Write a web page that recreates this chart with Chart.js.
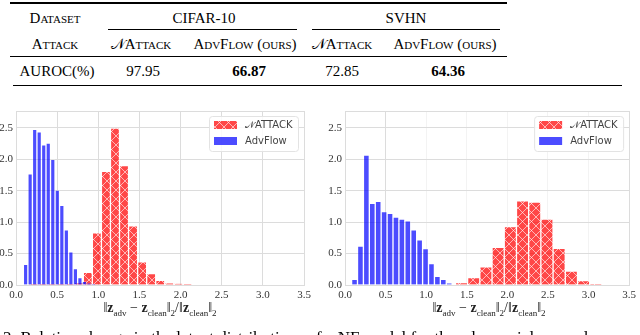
<!DOCTYPE html>
<html>
<head>
<meta charset="utf-8">
<script src="https://cdn.jsdelivr.net/npm/chart.js@4.4.0/dist/chart.umd.min.js"></script>
<style>
  body { margin: 0; width: 640px; height: 335px; overflow: hidden; background: #fff; position: relative; font-family: 'Liberation Serif', serif; }
  .cell { position: absolute; font-size: 15px; line-height: 18px; white-space: nowrap; transform: translateX(-50%); color: #000; }
  .sc { font-variant: small-caps; }
  .rule { position: absolute; background: #000; }
  canvas { position: absolute; }
  .xtitle { position: absolute; top: 301px; font-size: 14px; line-height: 14px; white-space: nowrap; transform: translateX(-50%); color: #222; }
  .xtitle sub { font-size: 9px; }
  .caption { position: absolute; left: 3px; top: 330px; font-size: 17px; line-height: 16px; white-space: nowrap; color: #000; }
</style>
</head>
<body>
<div id="table"></div>
<canvas id="cifar" width="330" height="220" style="left:-10px; top:100px"></canvas>
<canvas id="svhn" width="320" height="220" style="left:320px; top:100px"></canvas>
<div class="xtitle" style="left:160px">‖<b>z</b><sub>adv</sub> − <b>z</b><sub>clean</sub>‖<sub>2</sub>/‖<b>z</b><sub>clean</sub>‖<sub>2</sub></div>
<div class="xtitle" style="left:489px">‖<b>z</b><sub>adv</sub> − <b>z</b><sub>clean</sub>‖<sub>2</sub>/‖<b>z</b><sub>clean</sub>‖<sub>2</sub></div>
<div class="caption">2: Relative change in the latent distributions of a NF model for the adversarial examples</div>
<script>
// table contents
const tableDatasets = ['CIFAR-10', 'SVHN'];
const tableAttacks = ['𝒩Attack', 'AdvFlow (ours)'];
const aurocValues = [97.95, 66.87, 72.85, 64.36];
const aurocBold = [false, true, false, true];

// legend names
const seriesNames = ['𝒩ATTACK', 'AdvFlow'];

// axis ranges / tick step
const xMax = 3.5;
const yMax = 2.77;
const tickStep = 0.5;

// CIFAR-10 histograms (bin centres, density)
const cifarAttackBins = [0.213, 0.323, 0.433, 0.543, 0.653, 0.763, 0.873, 0.983, 1.093, 1.203, 1.313, 1.423, 1.533, 1.643, 1.753, 1.863, 1.973, 2.083];
const cifarAttackDensity = [0.01, 0.01, 0.005, 0.004, 0.01, 0.04, 0.20, 0.83, 1.81, 2.50, 1.90, 0.94, 0.37, 0.18, 0.075, 0.03, 0.02, 0.01];
const cifarFlowBins = [0.117, 0.172, 0.227, 0.282, 0.337, 0.392, 0.447, 0.502, 0.557, 0.612, 0.667, 0.722, 0.777, 0.832, 0.887, 0.942];
const cifarFlowDensity = [0.33, 1.77, 2.48, 2.44, 2.23, 2.26, 2.00, 1.51, 1.27, 0.88, 0.53, 0.26, 0.12, 0.06, 0.03, 0.015];

// SVHN histograms (bin centres, density)
const svhnAttackBins = [1.4352, 1.5856, 1.736, 1.8864, 2.0368, 2.1872, 2.3376, 2.488, 2.6384, 2.7888, 2.9392, 3.0896];
const svhnAttackDensity = [0.04, 0.12, 0.29, 0.60, 0.93, 1.34, 1.32, 1.05, 0.585, 0.22, 0.07, 0.016];
const svhnFlowBins = [0.1175, 0.1904, 0.2633, 0.3362, 0.4091, 0.4820, 0.5549, 0.6278, 0.7007, 0.7736, 0.8465, 0.9194, 0.9923, 1.0652, 1.1381, 1.2110, 1.2839];
const svhnFlowDensity = [0.09, 0.62, 2.07, 1.30, 1.33, 1.17, 1.14, 1.08, 1.05, 1.02, 0.88, 0.72, 0.58, 0.34, 0.14, 0.09, 0.03];

// build the table
const table = document.getElementById('table');
function cell(text, x, y, cls, bold) {
    const d = document.createElement('div');
    d.className = 'cell' + (cls ? ' ' + cls : '');
    d.style.left = x + 'px';
    d.style.top = (y - 9) + 'px';
    if (bold) d.style.fontWeight = 'bold';
    d.textContent = text;
    table.appendChild(d);
}
function rule(x1, x2, y, h) {
    const d = document.createElement('div');
    d.className = 'rule';
    d.style.left = x1 + 'px';
    d.style.width = (x2 - x1) + 'px';
    d.style.top = y + 'px';
    d.style.height = h + 'px';
    table.appendChild(d);
}
const colX = [55, 141, 245, 342, 445];
cell('Dataset', colX[0], 18, 'sc');
cell(tableDatasets[0], 204, 18);
cell(tableDatasets[1], 406, 18);
cell('Attack', colX[0], 44, 'sc');
cell(tableAttacks[0], colX[1], 44, 'sc');
cell(tableAttacks[1], colX[2], 44, 'sc');
cell(tableAttacks[0], colX[3], 44, 'sc');
cell(tableAttacks[1], colX[4], 44, 'sc');
cell('AUROC(%)', 57, 71);
aurocValues.forEach((v, i) => cell(v.toFixed(2), [143, 249, 342, 448][i], 71, '', aurocBold[i]));
rule(10, 507, 2, 1.5);
rule(108, 297, 29, 1);
rule(312, 500, 29, 1);
rule(10, 507, 56, 1);
rule(13, 622, 84.5, 1.5);

// hatch pattern for the attack bars
function makeHatch() {
    const s = 9;
    const tile = document.createElement('canvas');
    tile.width = s; tile.height = s;
    const c = tile.getContext('2d');
    c.fillStyle = 'rgba(255,0,0,0.72)';
    c.fillRect(0, 0, s, s);
    c.strokeStyle = 'rgba(255,255,255,0.6)';
    c.lineWidth = 1;
    c.beginPath();
    c.moveTo(0, 0); c.lineTo(s, s);
    c.moveTo(0, s); c.lineTo(s, 0);
    c.stroke();
    return c.createPattern(tile, 'repeat');
}
const hatch = makeHatch();

// grey frame round the plot area
const framePlugin = {
    id: 'frame',
    beforeDatasetsDraw(chart) {
        const { ctx, chartArea: a } = chart;
        ctx.save();
        ctx.strokeStyle = '#dcdcdc';
        ctx.lineWidth = 1;
        ctx.strokeRect(Math.round(a.left) + 0.5, Math.round(a.top) + 0.5, Math.round(a.width), Math.round(a.height));
        ctx.restore();
    }
};

// legend box in the upper right corner
const boxLegend = {
    id: 'boxLegend',
    afterDatasetsDraw(chart) {
        const { ctx, chartArea: a } = chart;
        const w = 89, h = 35;
        const x0 = a.right - 6 - w, y0 = a.top + 5;
        ctx.save();
        ctx.fillStyle = 'rgba(255,255,255,0.85)';
        ctx.strokeStyle = '#e3e3e3';
        ctx.lineWidth = 1;
        ctx.beginPath();
        ctx.roundRect(x0 + 0.5, y0 + 0.5, w, h, 3);
        ctx.fill();
        ctx.stroke();
        chart.data.datasets.forEach((ds, i) => {
            const cy = y0 + 9 + i * 16;
            ctx.fillStyle = ds.backgroundColor;
            ctx.fillRect(x0 + 5, cy - 4, 23, 8);
            ctx.fillStyle = '#444';
            ctx.font = '10px "DejaVu Sans"';
            ctx.textBaseline = 'middle';
            ctx.fillText(ds.label, x0 + 36, cy);
        });
        ctx.restore();
    }
};

function histChart(id, attackBins, attackDensity, flowBins, flowDensity, yWidth, padRight, faint) {
    const tickFont = { family: 'Liberation Serif', size: 11 };
    const xScale = (show) => ({
        type: 'linear',
        display: show,
        min: 0,
        max: xMax,
        offset: false,
        grid: {
            offset: false,
            drawTicks: false,
            color: (c) => (faint && c.tick && c.tick.value !== 0.5) ? '#f3f3f3' : '#dcdcdc'
        },
        border: { color: '#dcdcdc' },
        ticks: { stepSize: tickStep, padding: 4, color: '#333', font: tickFont, maxRotation: 0,
                 callback: (v) => v.toFixed(1) },
        afterFit: (s) => { s.height = show ? 35 : 0; }
    });
    return new Chart(document.getElementById(id).getContext('2d'), {
        type: 'bar',
        data: {
            datasets: [
                {
                    label: seriesNames[0],
                    data: attackBins.map((x, i) => ({ x: x, y: attackDensity[i] })),
                    xAxisID: 'x2',
                    backgroundColor: hatch,
                    borderColor: 'rgba(255,255,255,0.45)',
                    borderWidth: 1,
                    order: 1
                },
                {
                    label: seriesNames[1],
                    data: flowBins.map((x, i) => ({ x: x, y: flowDensity[i] })),
                    xAxisID: 'x',
                    backgroundColor: 'rgba(0,0,255,0.7)',
                    borderColor: 'rgba(255,255,255,0.22)',
                    borderWidth: 1,
                    order: 0
                }
            ]
        },
        options: {
            responsive: false,
            animation: false,
            devicePixelRatio: 1,
            layout: { padding: { top: 11, right: padRight, left: 0, bottom: 0 } },
            datasets: { bar: { grouped: false, barPercentage: 1, categoryPercentage: 1 } },
            scales: {
                x: xScale(true),
                x2: Object.assign(xScale(false), { axis: 'x' }),
                y: {
                    min: 0,
                    max: yMax,
                    grid: { drawTicks: false, color: '#dcdcdc' },
                    border: { color: '#dcdcdc' },
                    ticks: { stepSize: tickStep, includeBounds: false, padding: 3, color: '#333', font: tickFont,
                             callback: (v) => v.toFixed(1) },
                    afterFit: (s) => { s.width = yWidth; }
                }
            },
            plugins: { legend: { display: false }, tooltip: { enabled: false } }
        },
        plugins: [framePlugin, boxLegend]
    });
}

histChart('cifar', cifarAttackBins, cifarAttackDensity, cifarFlowBins, cifarFlowDensity, 26, 16, false);
histChart('svhn', svhnAttackBins, svhnAttackDensity, svhnFlowBins, svhnFlowDensity, 25, 6, true);
</script>
</body>
</html>
